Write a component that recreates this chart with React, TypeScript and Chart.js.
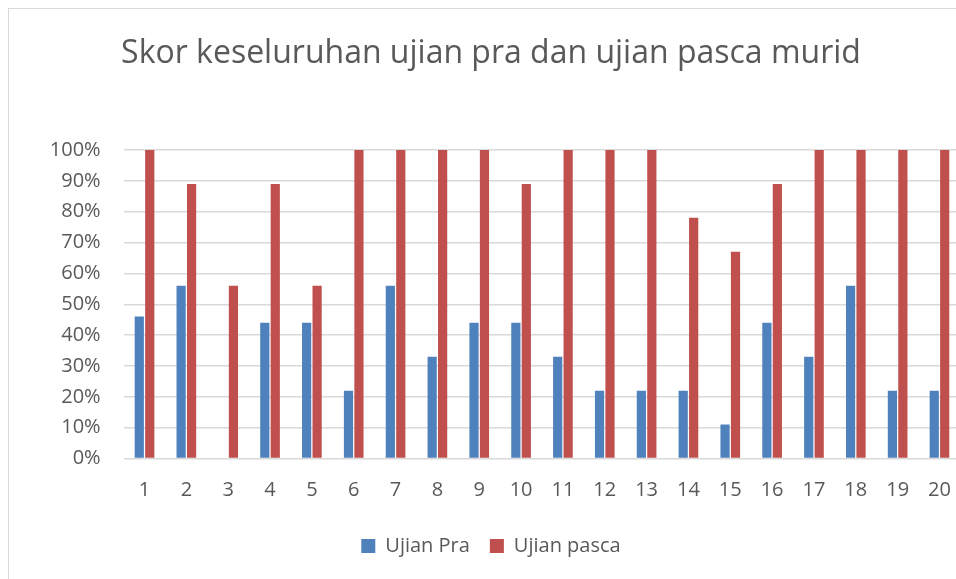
import React, { useEffect, useRef } from "react";
import { Chart, registerables } from "chart.js";

Chart.register(...registerables);

const categories = ["1","2","3","4","5","6","7","8","9","10","11","12","13","14","15","16","17","18","19","20"];
const ujianPra = [46, 56, 0, 44, 44, 22, 56, 33, 44, 44, 33, 22, 22, 22, 11, 44, 33, 56, 22, 22];
const ujianPasca = [100, 89, 56, 89, 56, 100, 100, 100, 100, 89, 100, 100, 100, 78, 67, 89, 100, 100, 100, 100];
const seriesNames = ["Ujian Pra", "Ujian pasca"];
const titleText = "Skor keseluruhan ujian pra dan ujian pasca murid";

const FONT = "'Open Sans', sans-serif";
const GREY = "#595959";

export default function App() {
  const ref = useRef<HTMLCanvasElement | null>(null);
  useEffect(() => {
    if (!ref.current) return;
    const chart = new Chart(ref.current, {
      type: "bar",
      data: {
        labels: categories,
        datasets: [
          { label: seriesNames[0], data: ujianPra, backgroundColor: "#4F81BD", categoryPercentage: 0.5, barPercentage: 0.88 },
          { label: seriesNames[1], data: ujianPasca, backgroundColor: "#C0504D", categoryPercentage: 0.5, barPercentage: 0.88 },
        ],
      },
      options: {
        responsive: false,
        animation: false,
        devicePixelRatio: 1,
        layout: { padding: { left: 12.6, right: 12.6, top: 0, bottom: 14 } },
        plugins: {
          title: {
            display: true,
            text: titleText,
            color: GREY,
            font: { family: FONT, size: 32, weight: "normal" },
            padding: { top: 25.6, bottom: 77 },
          },
          legend: {
            position: "bottom",
            labels: {
              color: GREY,
              font: { family: FONT, size: 20 },
              boxWidth: 14,
              boxHeight: 14,
              padding: 20,
            },
          },
          tooltip: { enabled: false },
        },
        scales: {
          x: {
            grid: { display: false, drawTicks: false },
            border: { display: false },
            ticks: { color: GREY, font: { family: FONT, size: 20 }, padding: 19.5, maxRotation: 0 },
            afterFit: (s: any) => { s.height = 57.5; },
          },
          y: {
            min: 0,
            max: 100,
            grid: { color: "#d9d9d9", lineWidth: 1.5, drawTicks: false },
            border: { display: false },
            ticks: {
              stepSize: 10,
              color: GREY,
              font: { family: FONT, size: 20 },
              padding: 23,
              callback: (v: any) => v + "%",
            },
            afterFit: (s: any) => { s.width = 102; },
          },
        },
      },
    });
    return () => chart.destroy();
  }, []);

  return (
    <div
      style={{
        position: "fixed",
        left: 8,
        top: 8,
        width: 948,
        height: 571,
        overflow: "hidden",
        borderLeft: "1px solid #d9d9d9",
        borderTop: "1px solid #d9d9d9",
        background: "#fff",
        boxSizing: "border-box",
      }}
    >
      <canvas ref={ref} width={964} height={571} style={{ display: "block", width: 964, height: 571 }} />
    </div>
  );
}
